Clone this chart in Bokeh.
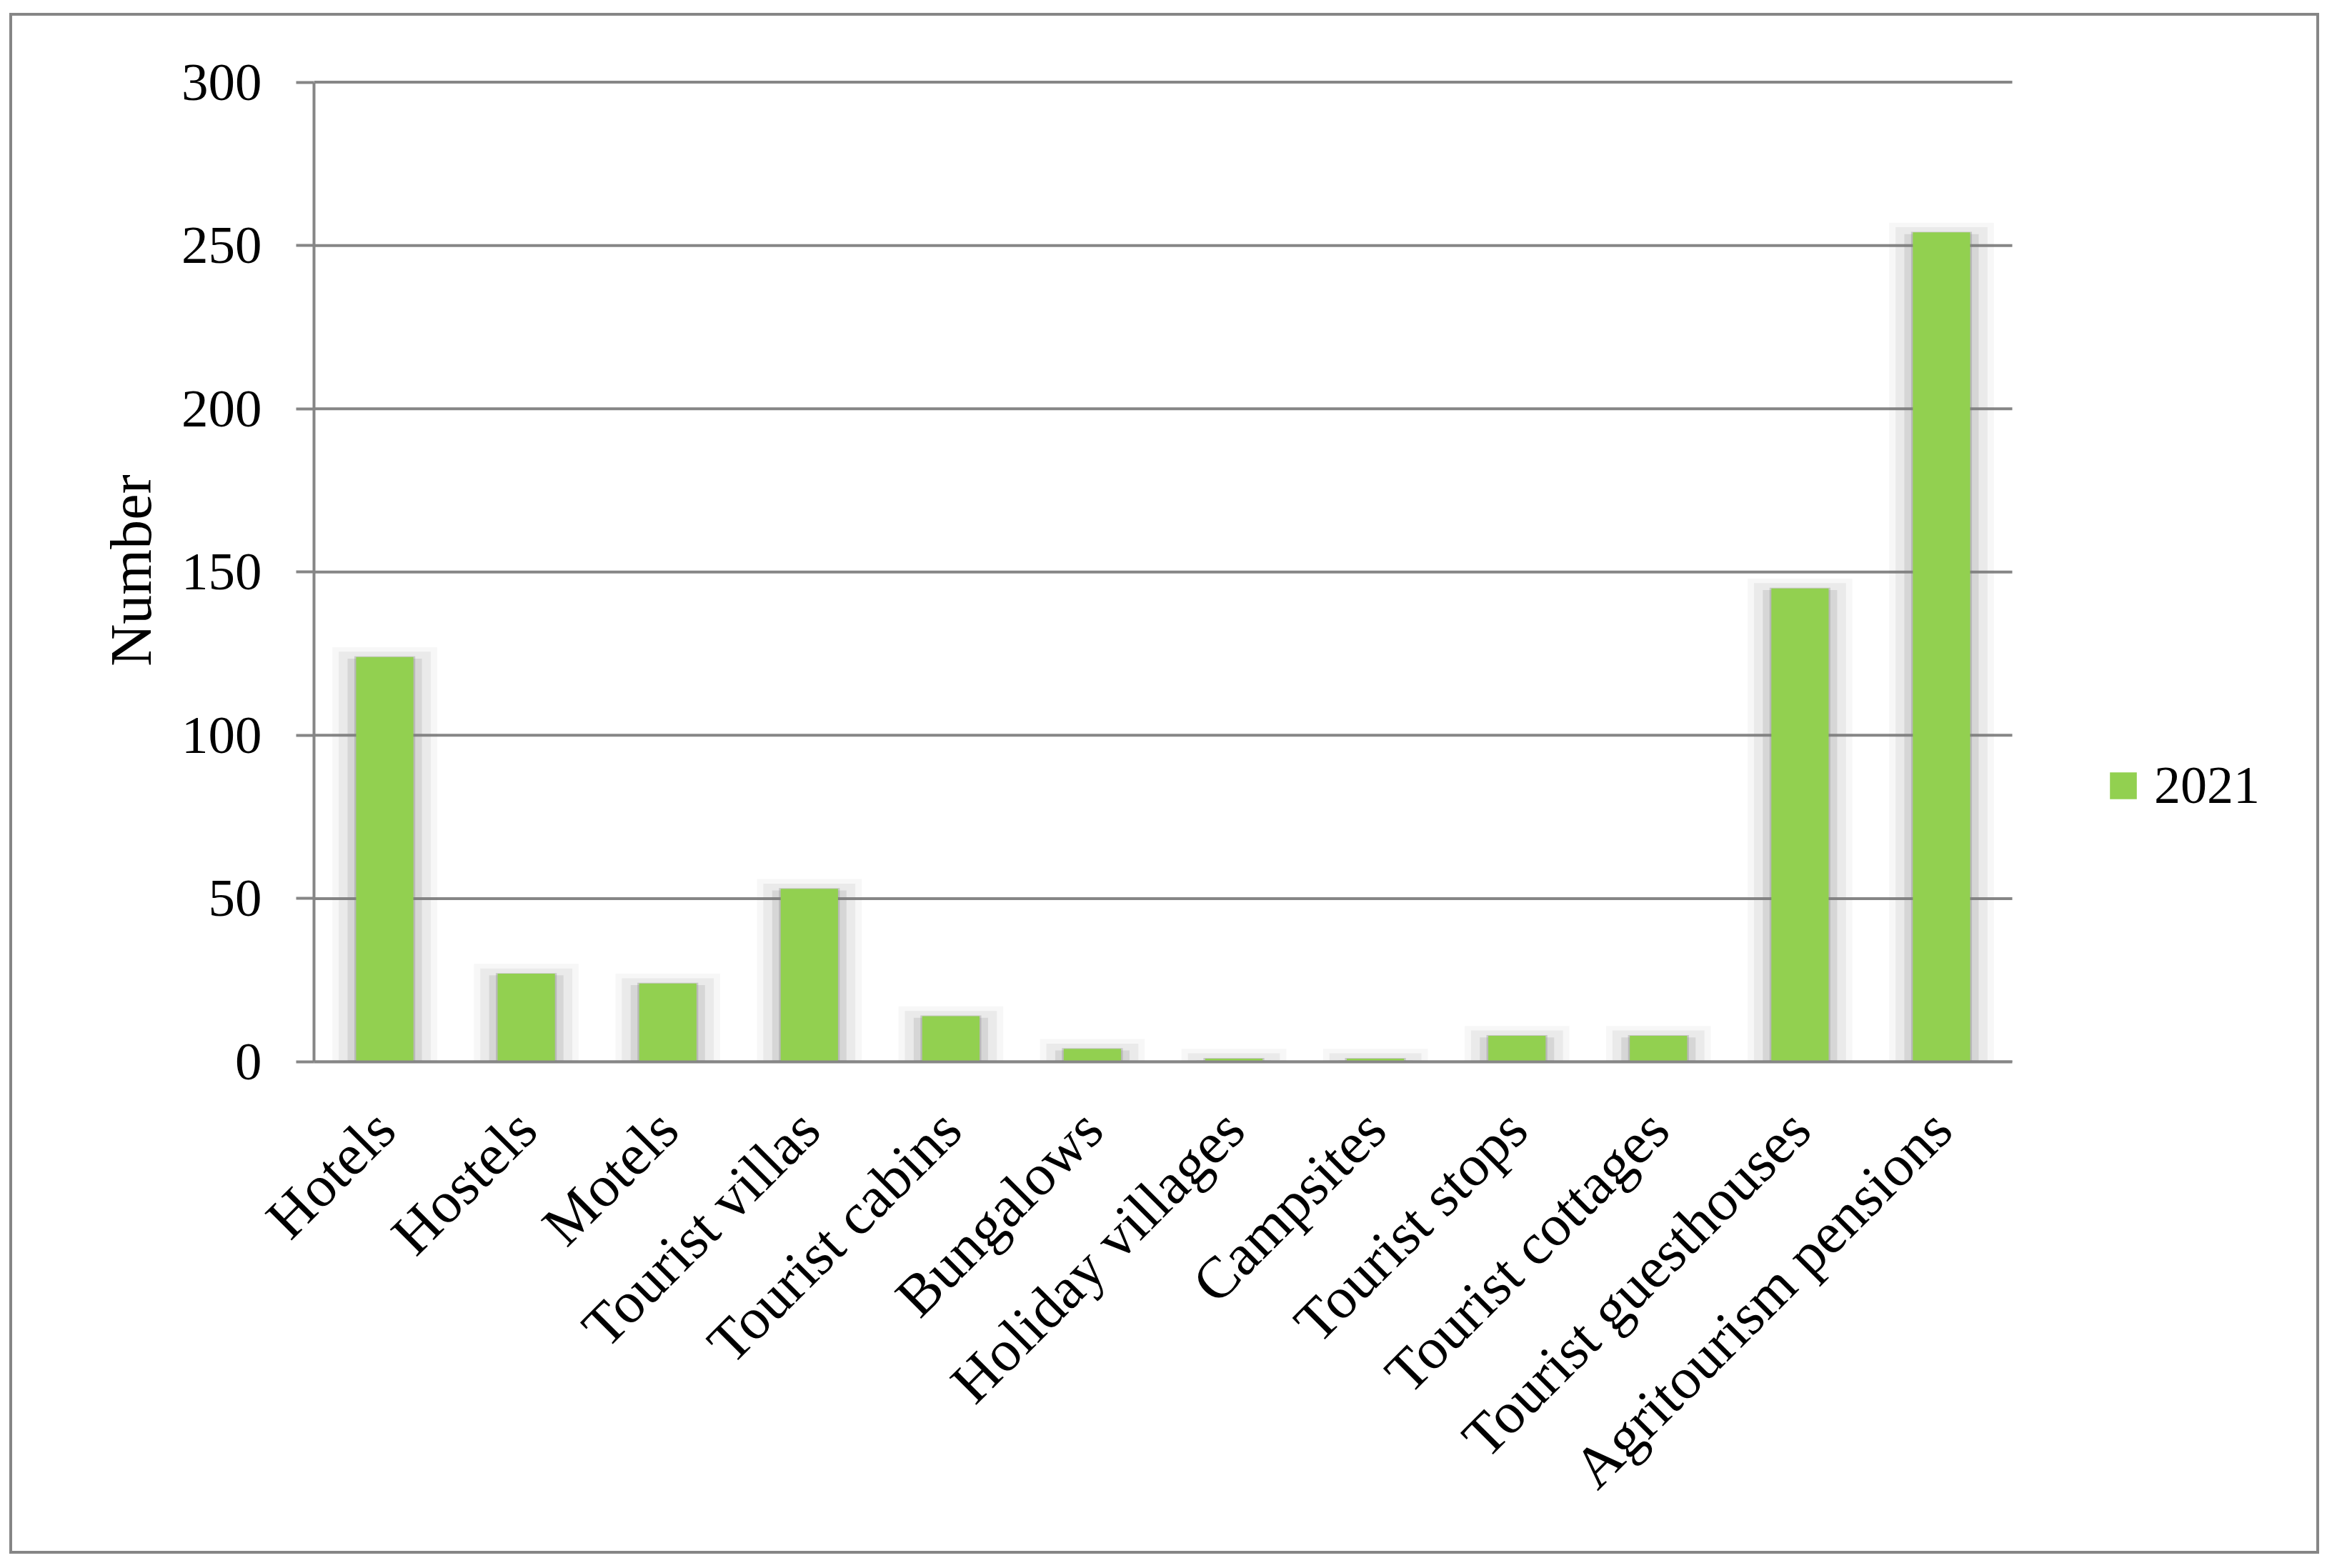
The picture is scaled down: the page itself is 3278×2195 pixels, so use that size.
from bokeh.plotting import figure
from bokeh.models import Range1d, Legend, LegendItem, FixedTicker
from bokeh.embed import file_html
from bokeh.resources import INLINE

categories = ["Hotels", "Hostels", "Motels", "Tourist villas", "Tourist cabins",
              "Bungalows", "Holiday villages", "Campsites", "Tourist stops",
              "Tourist cottages", "Tourist guesthouses", "Agritourism pensions"]
values_2021 = [124, 27, 24, 53, 14, 4, 1, 1, 8, 8, 145, 254]
series_name = "2021"
y_ticks = [0, 50, 100, 150, 200, 250, 300]
y_label = "Number"

FONT = "Liberation Serif"
GRAY = "#868686"
GREEN = "#92D050"
SHADOW = "#7f7f7f"

W, H = 3233, 2157
LEFT, RIGHT, TOP, BOTTOM = 422, 10, 88, 693
PLOT_PX = 2377           # pixel width taken by the category area
n = len(categories)
xs = [i + 0.5 for i in range(n)]
x_end = n * (W - LEFT - RIGHT) / PLOT_PX

p = figure(x_range=Range1d(0, x_end), y_range=Range1d(0, 301),
           width=W, height=H,
           min_border_left=LEFT, min_border_right=RIGHT,
           min_border_top=TOP, min_border_bottom=BOTTOM,
           output_backend="svg", toolbar_location=None)
p.styles = {"border": "4px solid " + GRAY, "transform": "translate(13px, 18px)"}

# horizontal gridlines limited to the category area
p.segment(x0=[0] * len(y_ticks), x1=[n] * len(y_ticks), y0=y_ticks, y1=y_ticks,
          line_color=GRAY, line_width=4)

# soft shadow layers behind bars (outer -> inner)
for w, extra, a in [(0.74, 3.0, 0.06), (0.65, 1.6, 0.10),
                    (0.525, -0.5, 0.19), (0.43, 0.2, 0.33)]:
    p.vbar(x=xs, top=[max(v + extra, 0) for v in values_2021], width=w,
           fill_color=SHADOW, fill_alpha=a, line_color=None)

bars = p.vbar(x=xs, top=values_2021, width=0.405,
              fill_color=GREEN, line_color=None)

p.outline_line_color = None
p.xgrid.grid_line_color = None
p.ygrid.grid_line_color = None

p.yaxis.ticker = FixedTicker(ticks=y_ticks)
p.yaxis.bounds = (0, 300)
p.yaxis.axis_line_color = GRAY
p.yaxis.axis_line_width = 4
p.yaxis.major_tick_line_color = GRAY
p.yaxis.major_tick_line_width = 4
p.yaxis.major_tick_out = 25
p.yaxis.major_tick_in = 0
p.yaxis.minor_tick_line_color = None
p.yaxis.major_label_standoff = 48
p.yaxis.major_label_text_font = FONT
p.yaxis.major_label_text_font_size = "75px"
p.yaxis.major_label_text_color = "black"
p.yaxis.axis_label = y_label
p.yaxis.axis_label_text_font = FONT
p.yaxis.axis_label_text_font_size = "82px"
p.yaxis.axis_label_text_font_style = "normal"
p.yaxis.axis_label_text_color = "black"
p.yaxis.axis_label_standoff = 22

p.xaxis.ticker = FixedTicker(ticks=xs)
p.xaxis.major_label_overrides = {x: c for x, c in zip(xs, categories)}
p.xaxis.bounds = (0, n)
p.xaxis.axis_line_color = GRAY
p.xaxis.axis_line_width = 4
p.xaxis.major_tick_line_color = None
p.xaxis.minor_tick_line_color = None
p.xaxis.major_label_orientation = 0.785398
p.xaxis.major_label_standoff = 75
p.xaxis.major_label_text_font = FONT
p.xaxis.major_label_text_font_size = "82px"
p.xaxis.major_label_text_color = "black"

legend = Legend(items=[LegendItem(label=series_name, renderers=[bars])],
                location=(2509, 344), orientation="vertical",
                glyph_width=47, glyph_height=47, label_standoff=20,
                label_text_font=FONT, label_text_font_size="74px",
                label_text_color="black",
                padding=0, margin=0, spacing=0,
                border_line_color=None, background_fill_alpha=0)
p.add_layout(legend)

open("out.html", "w").write(file_html(p, INLINE))
